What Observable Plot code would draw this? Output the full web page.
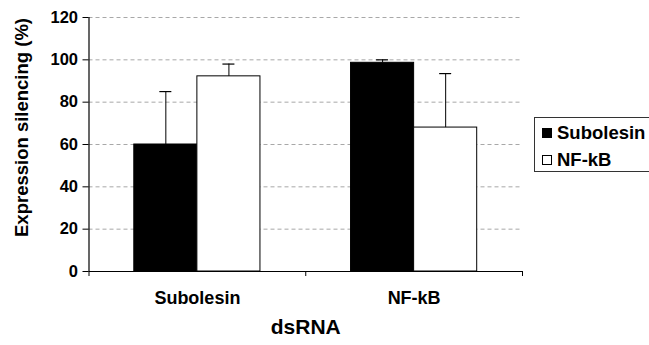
<!DOCTYPE html>
<html>
<head>
<meta charset="utf-8">
<script src="https://cdn.jsdelivr.net/npm/d3@7"></script>
<script src="https://cdn.jsdelivr.net/npm/@observablehq/plot@0.6"></script>
<style>
  html, body { margin: 0; padding: 0; background: #fff; overflow: hidden; }
  #wrap { position: relative; width: 649px; height: 345px; font-family: "Liberation Sans", Arial, sans-serif; }
  #legend { position: absolute; left: 534px; top: 117px; width: 130px; height: 55px; border: 1px solid #333; box-sizing: border-box; background: #fff; font-weight: bold; font-size: 18.5px; }
  .item { position: absolute; left: 7px; display: flex; align-items: center; white-space: nowrap; }
  .sw { width: 10px; height: 10px; border: 1px solid #000; box-sizing: border-box; margin-right: 5px; }
</style>
</head>
<body>
<div id="wrap">
  <div id="chart"></div>
  <div id="legend"></div>
</div>
<script>
const groups = ["Subolesin", "NF-kB"];
const seriesNames = ["Subolesin", "NF-kB"];
const subolesinValues = [60, 98.6];
const subolesinUpper = [85, 100];
const nfkbValues = [92.2, 68];
const nfkbUpper = [98, 93.5];
const yTicks = [0, 20, 40, 60, 80, 100, 120];
const seriesFill = ["#000", "#fff"];

const barW = 0.291;
const off = (1 - 2 * barW) / 2;
const valuesBySeries = [subolesinValues, nfkbValues];
const upperBySeries = [subolesinUpper, nfkbUpper];
const rows = [];
groups.forEach((g, gi) => {
  seriesNames.forEach((s, si) => {
    const x1 = gi + off + si * barW;
    rows.push({group: g, series: s, si, x1, x2: x1 + barW, xc: x1 + barW / 2,
      value: valuesBySeries[si][gi], upper: upperBySeries[si][gi]});
  });
});

const font = "Liberation Sans, Arial, sans-serif";
const chart = Plot.plot({
  width: 649,
  height: 345,
  marginLeft: 88.5,
  marginRight: 127,
  marginTop: 17,
  marginBottom: 74,
  style: {fontFamily: font, background: "#fff"},
  x: {domain: [0, groups.length], axis: null},
  y: {domain: [0, 120], axis: null},
  marks: [
    Plot.ruleY(yTicks.filter(d => d > 0), {stroke: "#a8a8a8", strokeDasharray: "4,3", strokeWidth: 1}),
    Plot.rectY(rows, {x1: "x1", x2: "x2", y1: 0, y2: "value", fill: d => seriesFill[d.si], stroke: "#000", strokeWidth: 1}),
    Plot.ruleX(rows, {x: "xc", y1: "value", y2: "upper", stroke: "#000", strokeWidth: 1}),
    Plot.ruleY(rows, {x1: "xc", x2: "xc", y: "upper", insetLeft: -6, insetRight: -6, stroke: "#000", strokeWidth: 1.2}),
    Plot.ruleX([0], {y1: 0, y2: 120, stroke: "#000", strokeWidth: 1.2}),
    Plot.ruleY([0], {stroke: "#000", strokeWidth: 1.2}),
    Plot.ruleX(d3.range(groups.length + 1), {y1: 0, y2: 0, insetBottom: -5, stroke: "#000"}),
    Plot.ruleY(yTicks, {x1: 0, x2: 0, insetLeft: -6, stroke: "#000"}),
    Plot.text(yTicks, {x: 0, y: d => d, text: d => String(d), dx: -11, textAnchor: "end", fontSize: 16.5, fontWeight: "bold", fill: "#000"}),
    Plot.text(groups, {x: (d, i) => i + 0.5, y: 0, text: d => d, dy: 27, fontSize: 18, fontWeight: "bold", fill: "#000"}),
    Plot.text(["dsRNA"], {frameAnchor: "bottom", text: d => d, dy: 62, fontSize: 21, fontWeight: "bold", fill: "#000"}),
    Plot.text(["Expression silencing (%)"], {frameAnchor: "left", textAnchor: "middle", text: d => d, rotate: -90, dx: -67, dy: -17, fontSize: 18.5, fontWeight: "bold", fill: "#000"})
  ]
});
document.getElementById("chart").appendChild(chart);

const legend = document.getElementById("legend");
seriesNames.forEach((s, i) => {
  const item = document.createElement("div");
  item.className = "item";
  item.style.top = (i === 0 ? 4 : 31) + "px";
  const sw = document.createElement("span");
  sw.className = "sw";
  sw.style.background = seriesFill[i];
  item.appendChild(sw);
  const t = document.createElement("span");
  t.textContent = s;
  item.appendChild(t);
  legend.appendChild(item);
});
</script>
</body>
</html>
